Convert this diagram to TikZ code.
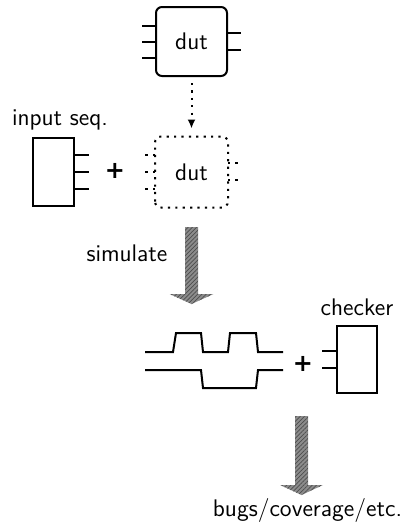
\documentclass[tikz,border=0pt]{standalone}
\usepackage{fontspec}
\newfontfamily\plusfont{DejaVu Sans}
\usepackage{xcolor}
\definecolor{ArrowGray}{gray}{0.55}
\definecolor{HatchGray}{gray}{0.3}
\usepackage{tikz}
\usetikzlibrary{calc, positioning, arrows.meta, patterns.meta}

\begin{document}
\begin{tikzpicture}[x=0.5pt, y=-0.5pt, font=\sffamily\large,
    dutbox/.style={draw, line width=1pt, rounded corners=3pt, minimum width=35.5pt, minimum height=34.5pt, inner sep=0pt},
    seqbox/.style={draw, line width=1pt, minimum width=20.5pt, minimum height=34pt, inner sep=0pt},
    ghost/.style={line width=1pt, dash pattern=on 1.1pt off 2.6pt},
    pinline/.style={line width=1pt},
    bigarrow/.style={fill=ArrowGray, postaction={pattern={Lines[angle=45, distance=1.5pt, line width=0.35pt]}, pattern color=HatchGray}},
    plus/.style={font=\plusfont\large\bfseries}]

    \useasboundingbox (0,0) rectangle (410,530);

    % 1. THE DESIGN UNDER TEST
    \node[dutbox] (dut) at (191.5,41.5) {dut};
    \foreach \dy in {-16, 0, 16} {
        \draw[pinline] ($(dut.west)+(0,\dy)$) -- ++(-13,0);
    }
    \foreach \dy in {-9, 8} {
        \draw[pinline] ($(dut.east)+(0,\dy)$) -- ++(13,0);
    }

    % 2. INPUT SEQUENCE + DUT (dotted copy)
    \node (seqlabel) at (60,120) {input seq.};
    \node[seqbox] (seq) at (53.5,172) {};
    \foreach \dy in {-17, 0, 17} {
        \draw[pinline] ($(seq.east)+(0,\dy)$) -- ++(14,0);
    }
    \node[plus] (plusA) at (115,171) {+};

    \node[dutbox, draw=none] (dutsim) at (191.5,172) {dut};
    \draw[ghost, rounded corners=3pt] (dutsim.south west) rectangle (dutsim.north east);
    \foreach \dy in {-17, 0, 17} {
        \draw[ghost] ($(dutsim.west)+(0,\dy)$) -- ++(-13,0);
    }
    \foreach \dy in {-9, 8} {
        \draw[ghost] ($(dutsim.east)+(0,\dy)$) -- ++(13,0);
    }
    \draw[ghost, -{Latex[length=4.5pt, width=4pt]}, shorten <=3pt, shorten >=4pt] (dut.south) -- (dutsim.north);

    % 3. SIMULATION
    \node (simlabel) at (127,253) {simulate};
    \coordinate (simtop) at (191.5,227);
    \fill[bigarrow] (simtop) ++(-6.5,0) -- ++(0,67) -- ++(-15.5,0) -- ++(22,10) -- ++(22,-10) -- ++(-15.5,0) -- ++(0,-67) -- cycle;

    % 4. WAVEFORMS + CHECKER
    \coordinate (waveA) at (145,352);
    \coordinate (waveB) at (145,370);
    \draw[pinline] (waveA) -- ++(28,0) -- ++(3,-19) -- ++(25,0) -- ++(2,19) -- ++(25,0) -- ++(2,-19) -- ++(26,0) -- ++(2,19) -- ++(25,0);
    \draw[pinline] (waveB) -- ++(56,0) -- ++(2,18) -- ++(53,0) -- ++(2,-18) -- ++(25,0);
    \node[plus] (plusB) at (303,364) {+};

    \node[seqbox, minimum width=20pt, minimum height=33.5pt] (checker) at (357,359.5) {};
    \node (checklabel) at (357,307) {checker};
    \foreach \dy in {-8.5, 8.5} {
        \draw[pinline] ($(checker.west)+(0,\dy)$) -- ++(-14,0);
    }

    % 5. RESULT
    \coordinate (restop) at (301.5,416);
    \fill[bigarrow] (restop) ++(-6.5,0) -- ++(0,69) -- ++(-15,0) -- ++(21.5,10) -- ++(21.5,-10) -- ++(-15,0) -- ++(0,-69) -- cycle;
    \node (result) at (307.5,510) {bugs/coverage/etc.};

\end{tikzpicture}
\end{document}
